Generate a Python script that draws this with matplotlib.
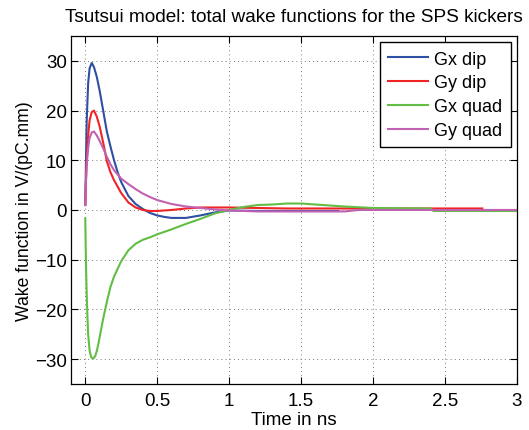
import numpy as np
import matplotlib.pyplot as plt

plt.rcParams['font.family'] = ['Liberation Sans', 'DejaVu Sans']

# Gx dip
t_gxd = [0, 0.005, 0.01, 0.02, 0.03, 0.045, 0.06, 0.08, 0.1, 0.125, 0.15, 0.175, 0.2, 0.225, 0.25,
         0.3, 0.35, 0.4, 0.45, 0.5, 0.55, 0.6, 0.7, 0.8, 0.9, 1.0, 1.2, 1.4, 1.6, 1.76]
gx_dip = [1, 10, 18, 25.5, 28.5, 29.6, 28.8, 26.8, 24.0, 19.9, 15.8, 12.8, 10.0, 7.6, 5.6,
          2.8, 1.2, 0.2, -0.6, -1.1, -1.4, -1.6, -1.6, -1.1, -0.5, -0.1, -0.2, -0.2, -0.2, -0.2]

# Gy dip
t_gyd = [0, 0.005, 0.01, 0.02, 0.03, 0.045, 0.06, 0.08, 0.1, 0.125, 0.15, 0.175, 0.2, 0.25,
         0.3, 0.35, 0.4, 0.45, 0.5, 0.6, 0.7, 0.8, 0.9, 1.0, 1.2, 1.4, 1.6, 2.0, 2.4, 2.76]
gy_dip = [1, 6, 10, 15, 18, 19.7, 20.0, 18.8, 16.8, 13.5, 9.8, 7.6, 6.0, 3.4,
          1.5, 0.5, 0.0, -0.2, -0.2, 0.0, 0.3, 0.5, 0.5, 0.5, 0.4, 0.3, 0.3, 0.3, 0.3, 0.3]

# Gx quad
t_gxq = [0, 0.005, 0.01, 0.015, 0.02, 0.03, 0.04, 0.05, 0.06, 0.07, 0.08, 0.09, 0.1, 0.125, 0.15,
         0.175, 0.2, 0.25, 0.3, 0.35, 0.4, 0.45, 0.5, 0.6, 0.7, 0.8, 0.9, 1.0, 1.1, 1.2, 1.3,
         1.4, 1.5, 1.6, 1.7, 1.8, 2.0, 2.4, 2.42, 3.0]
gx_quad = [-1.7, -11, -17, -21.5, -25, -28.3, -29.5, -29.9, -29.8, -29.3, -28.4, -27.1, -25.6, -21.8, -18.5,
           -15.5, -13.4, -10.3, -8.1, -6.8, -6.0, -5.5, -4.9, -3.9, -2.8, -1.8, -0.7, 0.0, 0.6, 1.0, 1.1,
           1.3, 1.3, 1.1, 0.9, 0.7, 0.4, 0.3, -0.2, -0.2]

# Gy quad
t_gyq = [0, 0.005, 0.01, 0.02, 0.03, 0.045, 0.06, 0.08, 0.1, 0.125, 0.15, 0.175, 0.2, 0.25,
         0.3, 0.35, 0.4, 0.45, 0.5, 0.6, 0.7, 0.8, 0.9, 1.0, 1.1, 1.2, 1.6, 1.8, 1.9, 3.0]
gy_quad = [1, 6, 9, 12.5, 14.5, 15.6, 15.8, 15.0, 13.9, 12.4, 10.7, 9.2, 8.0, 6.3,
           5.2, 4.2, 3.3, 2.6, 2.0, 1.2, 0.7, 0.4, 0.1, -0.1, -0.2, -0.3, -0.3, -0.3, 0.0, 0.0]

fig = plt.figure(figsize=(5.29, 4.31), dpi=100)
ax = fig.add_axes([0.134, 0.107, 0.843, 0.807])

ax.plot(t_gxd, gx_dip, color='#2f4fa5', lw=1.5, label='Gx dip')
ax.plot(t_gyd, gy_dip, color='#f02424', lw=1.5, label='Gy dip')
ax.plot(t_gxq, gx_quad, color='#62bd45', lw=1.5, label='Gx quad')
ax.plot(t_gyq, gy_quad, color='#c061b2', lw=1.5, label='Gy quad')

ax.set_xlim(-0.1, 3)
ax.set_ylim(-35, 35)
ax.set_xticks(np.arange(0, 3.01, 0.5))
ax.set_xticklabels(['0', '0.5', '1', '1.5', '2', '2.5', '3'])
ax.set_yticks(np.arange(-30, 31, 10))
ax.tick_params(direction='in', top=True, right=True, length=5, labelsize=13.5)
ax.tick_params(axis='x', pad=6)
ax.tick_params(axis='y', pad=3)
ax.grid(True, color='0.3', linestyle=(0, (1, 4)), linewidth=0.6)
for s in ax.spines.values():
    s.set_linewidth(0.9)

ax.set_xlabel('Time in ns', fontsize=13.5, labelpad=1)
ax.set_ylabel('Wake function in V/(pC.mm)', fontsize=12.7, labelpad=1)
fig.text(0.556, 0.96, 'Tsutsui model: total wake functions for the SPS kickers',
         ha='center', va='center', fontsize=13.7)

leg = ax.legend(loc='upper right', fontsize=13, fancybox=False, framealpha=1,
                edgecolor='k', borderaxespad=0.35, handlelength=2.2, labelspacing=0.38,
                borderpad=0.45, handletextpad=0.35)
leg.get_frame().set_linewidth(1.0)

fig.savefig('out.png', dpi=100)
